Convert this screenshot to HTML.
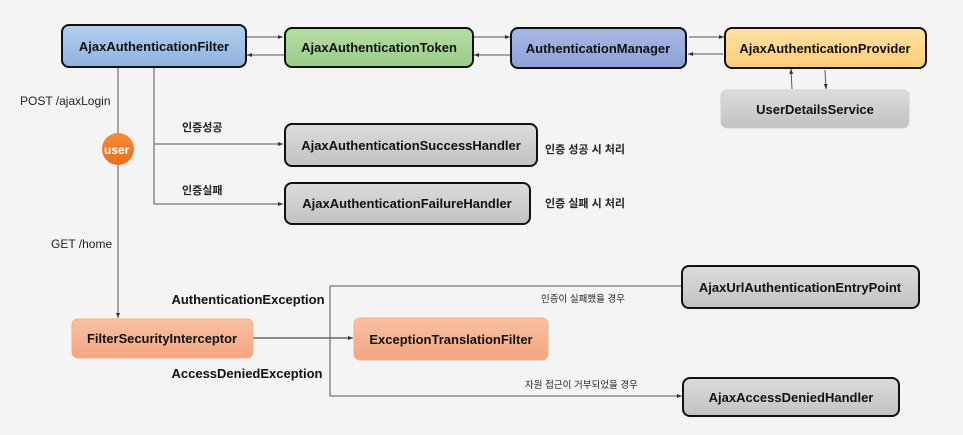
<!DOCTYPE html>
<html><head><meta charset="utf-8"><style>
html,body{margin:0;padding:0;background:#f4f4f4;}
svg{display:block;}
text{font-family:"Liberation Sans","Noto Sans CJK KR",sans-serif;}
.b{font-weight:bold;font-size:13px;fill:#111;}
.n{font-size:12px;fill:#222;}
.k{font-size:11px;font-weight:bold;fill:#222;}
.ks{font-size:9.5px;fill:#222;}
</style></head><body>
<svg width="963" height="435" viewBox="0 0 963 435" xmlns="http://www.w3.org/2000/svg">
<defs>
<linearGradient id="gb" x1="0" y1="0" x2="0" y2="1"><stop offset="0" stop-color="#b3cdec"/><stop offset="1" stop-color="#8fb3e0"/></linearGradient>
<linearGradient id="gg" x1="0" y1="0" x2="0" y2="1"><stop offset="0" stop-color="#b6dca6"/><stop offset="1" stop-color="#9bcd87"/></linearGradient>
<linearGradient id="gm" x1="0" y1="0" x2="0" y2="1"><stop offset="0" stop-color="#a9b9e4"/><stop offset="1" stop-color="#8aa0d8"/></linearGradient>
<linearGradient id="gy" x1="0" y1="0" x2="0" y2="1"><stop offset="0" stop-color="#ffe2a4"/><stop offset="1" stop-color="#fdcc78"/></linearGradient>
<linearGradient id="gr" x1="0" y1="0" x2="0" y2="1"><stop offset="0" stop-color="#dcdcdc"/><stop offset="1" stop-color="#c2c2c2"/></linearGradient>
<linearGradient id="go" x1="0" y1="0" x2="0" y2="1"><stop offset="0" stop-color="#f8c0a2"/><stop offset="1" stop-color="#f4a680"/></linearGradient>
<linearGradient id="gu" x1="0" y1="0" x2="0" y2="1"><stop offset="0" stop-color="#f58a3c"/><stop offset="1" stop-color="#ec6f1d"/></linearGradient>
<marker id="a" markerWidth="6" markerHeight="6" refX="5" refY="3" orient="auto"><path d="M0,1 L5,3 L0,5z" fill="#333"/></marker>
</defs>
<g stroke="#555" stroke-width="1" fill="none">
<line x1="246" y1="37" x2="283" y2="37" marker-end="url(#a)"/>
<line x1="284" y1="55" x2="247" y2="55" marker-end="url(#a)"/>
<line x1="473" y1="37" x2="510" y2="37" marker-end="url(#a)"/>
<line x1="510" y1="55" x2="474" y2="55" marker-end="url(#a)"/>
<line x1="689" y1="37" x2="724" y2="37" marker-end="url(#a)"/>
<line x1="723" y1="54" x2="688" y2="54" marker-end="url(#a)"/>
<line x1="792" y1="89" x2="791" y2="69" marker-end="url(#a)"/>
<line x1="825" y1="70" x2="826" y2="89" marker-end="url(#a)"/>
<line x1="118" y1="68" x2="118" y2="318" marker-end="url(#a)"/>
<polyline points="154,67 154,204 283,204" marker-end="url(#a)"/>
<line x1="154" y1="144" x2="283" y2="144" marker-end="url(#a)"/>
<line x1="253" y1="338" x2="353" y2="338" stroke="#222" marker-end="url(#a)"/>
<polyline points="682,286 330,286 330,396 682,396" marker-end="url(#a)"/>
</g>
<g stroke="#111" stroke-width="2">
<rect x="62" y="25" width="184" height="42" rx="7" fill="url(#gb)"/>
<rect x="285" y="28" width="188" height="39" rx="7" fill="url(#gg)"/>
<rect x="511" y="28" width="175" height="40" rx="7" fill="url(#gm)"/>
<rect x="725" y="28" width="201" height="40" rx="7" fill="url(#gy)"/>
<rect x="285" y="124" width="252" height="42" rx="7" fill="url(#gr)"/>
<rect x="285" y="183" width="245" height="41" rx="7" fill="url(#gr)"/>
<rect x="682" y="266" width="237" height="42" rx="7" fill="url(#gr)"/>
<rect x="683" y="378" width="216" height="38" rx="7" fill="url(#gr)"/>
</g>
<rect x="721" y="90" width="188" height="38" rx="6" fill="url(#gr)" stroke="#d0d0d0"/>
<rect x="72" y="319" width="181" height="39" rx="6" fill="url(#go)" stroke="#f0b08a"/>
<rect x="354" y="318" width="194" height="42" rx="6" fill="url(#go)" stroke="#f0b08a"/>
<circle cx="118" cy="149" r="16" fill="url(#gu)"/>
<text x="104" y="154" style="font-weight:bold;font-size:12px;fill:#fff">user</text>
<g class="b" text-anchor="middle">
<text x="154" y="51">AjaxAuthenticationFilter</text>
<text x="379" y="52">AjaxAuthenticationToken</text>
<text x="598" y="53">AuthenticationManager</text>
<text x="825" y="53">AjaxAuthenticationProvider</text>
<text x="815" y="114">UserDetailsService</text>
<text x="411" y="150">AjaxAuthenticationSuccessHandler</text>
<text x="407" y="208">AjaxAuthenticationFailureHandler</text>
<text x="800" y="292">AjaxUrlAuthenticationEntryPoint</text>
<text x="791" y="402">AjaxAccessDeniedHandler</text>
<text x="162" y="343" textLength="150" lengthAdjust="spacingAndGlyphs">FilterSecurityInterceptor</text>
<text x="451" y="344">ExceptionTranslationFilter</text>
<text x="248" y="304">AuthenticationException</text>
<text x="247" y="378">AccessDeniedException</text>
</g>
<text class="n" x="20" y="105">POST /ajaxLogin</text>
<text class="n" x="51" y="248">GET /home</text>
<text class="k" x="182" y="131">인증성공</text>
<text class="k" x="182" y="194">인증실패</text>
<text class="k" x="545" y="153">인증 성공 시 처리</text>
<text class="k" x="545" y="207">인증 실패 시 처리</text>
<text class="ks" x="541" y="302">인증이 실패했을 경우</text>
<text class="ks" x="525" y="388">자원 접근이 거부되었을 경우</text>
</svg>
</body></html>
